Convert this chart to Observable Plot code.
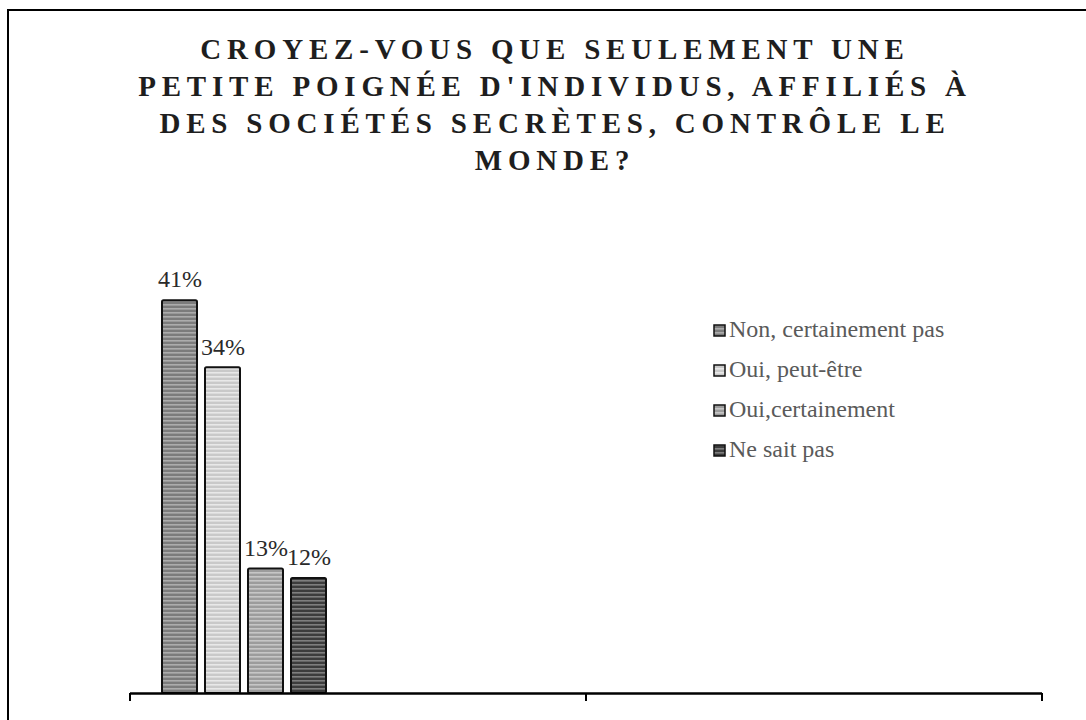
<!DOCTYPE html>
<html><head><meta charset="utf-8">
<script src="https://cdn.jsdelivr.net/npm/d3@7"></script>
<script src="https://cdn.jsdelivr.net/npm/@observablehq/plot@0.6"></script>
<style>
body{margin:0;background:#fff;}
#wrap{position:relative;width:1086px;height:720px;overflow:hidden;background:#fff;}
#border{position:absolute;left:7px;top:9px;width:1100px;height:740px;border-left:2px solid #000;border-top:2px solid #000;box-sizing:border-box;}
#title{position:absolute;left:12px;top:31px;width:1086px;text-align:center;font-family:"Liberation Serif","Tinos","Times New Roman","DejaVu Serif",serif;font-weight:bold;font-size:29px;line-height:37px;letter-spacing:5.8px;color:#1e1e1e;}
#chart{position:absolute;left:0;top:0;}
#legend{position:absolute;left:713px;top:301px;font-family:"Liberation Serif","Tinos","Times New Roman","DejaVu Serif",serif;font-size:24px;color:#5a5a5a;}
#legend .row{display:flex;align-items:flex-end;height:40px;line-height:24px;}
#legend svg{margin-right:3px;margin-bottom:4px;}
</style></head>
<body>
<svg width="0" height="0" style="position:absolute"><defs id="pdefs"></defs></svg>
<div id="wrap">
  <div id="border"></div>
  <div id="title"></div>
  <div id="chart"></div>
  <div id="legend"></div>
</div>
<script>
// ---- data ----
const titleLines = ["CROYEZ-VOUS QUE SEULEMENT UNE", "PETITE POIGNÉE D'INDIVIDUS, AFFILIÉS À", "DES SOCIÉTÉS SECRÈTES, CONTRÔLE LE", "MONDE?"];
const categories = ["Q1", "Q2"];
const series = ["Non, certainement pas", "Oui, peut-être", "Oui,certainement", "Ne sait pas"];
const valuesQ1 = [41, 34, 13, 12];
const valuesQ2 = [null, null, null, null]; // second category is empty in the chart
const baseColors = ["#7c7c7c", "#c9c9c9", "#9c9c9c", "#3c3c3c"];
const stripeColors = ["#acacac", "#e8e8e8", "#c6c6c6", "#7e7e7e"];

// ---- patterns ----
const defs = d3.select("#pdefs");
series.forEach((s, i) => {
  const p = defs.append("pattern").attr("id", "pat" + i)
    .attr("patternUnits", "userSpaceOnUse").attr("width", 8).attr("height", 4);
  p.append("rect").attr("width", 8).attr("height", 4).attr("fill", baseColors[i]);
  p.append("rect").attr("width", 8).attr("height", 1.6).attr("fill", stripeColors[i]);
});
const patterns = series.map((s, i) => `url(#pat${i})`);

const allValues = [valuesQ1, valuesQ2];
const data = categories.flatMap((c, j) => series.map((s, i) => ({cat: c, series: s, value: allValues[j][i]})));

document.getElementById("title").innerHTML = titleLines.join("<br>");

const serifFont = "Liberation Serif, Tinos, Times New Roman, DejaVu Serif, serif";
const chart = Plot.plot({
  width: 1086,
  height: 720,
  marginLeft: 130,
  marginRight: 44,
  marginTop: 262,
  marginBottom: 27,
  style: {background: "transparent", fontFamily: serifFont},
  fx: {domain: categories, padding: 0, axis: null},
  x: {domain: series, range: [160, 328], paddingInner: 0.18, paddingOuter: 0, axis: null},
  y: {domain: [0, 45], axis: null},
  color: {domain: series, range: patterns},
  marks: [
    Plot.barY(data, {fx: "cat", x: "series", y: "value", fill: "series", stroke: "#111", strokeWidth: 2, rx: 1.5}),
    Plot.text(data, {fx: "cat", x: "series", y: "value", text: d => d.value == null ? null : d.value + "%", dy: -21, fontSize: 24, fill: "#2a2a2a", fontFamily: serifFont}),
    Plot.ruleY([0], {stroke: "#000", strokeWidth: 2.5})
  ]
});
document.getElementById("chart").appendChild(chart);

// boundary ticks of the category axis, from Plot's own fx and y scales
const fxS = chart.scale("fx");
const yS = chart.scale("y");
const y0 = yS.apply(0);
const bw = fxS.bandwidth;
const bounds = categories.map(c => fxS.apply(c)).concat([fxS.apply(categories[categories.length - 1]) + bw]);
const svg = d3.select(chart.tagName.toLowerCase() === "svg" ? chart : chart.querySelector("svg"));
svg.append("g").selectAll("line").data(bounds).join("line")
  .attr("x1", d => d).attr("x2", d => d)
  .attr("y1", y0).attr("y2", y0 + 8)
  .attr("stroke", "#000").attr("stroke-width", 2);

// legend
const leg = d3.select("#legend");
series.forEach((s, i) => {
  const row = leg.append("div").attr("class", "row");
  const sw = row.append("svg").attr("width", 13).attr("height", 13);
  sw.append("rect").attr("x", 1).attr("y", 1).attr("width", 11).attr("height", 11)
    .attr("fill", chart.scale("color").apply(s)).attr("stroke", "#111").attr("stroke-width", 1.5);
  row.append("span").text(s);
});
</script>
</body></html>
